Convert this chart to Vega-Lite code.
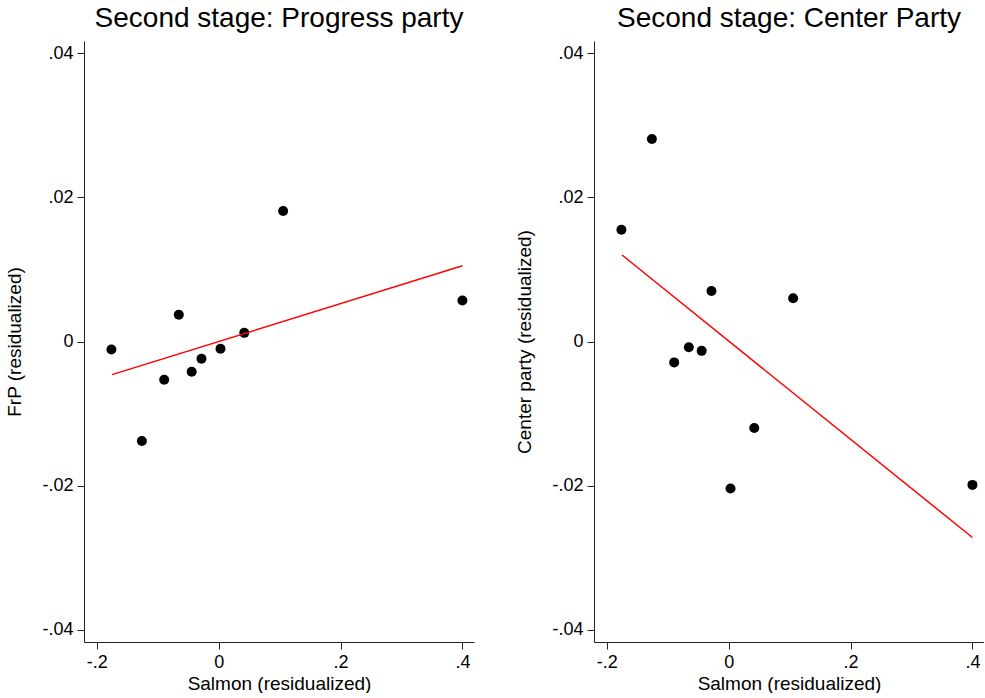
{
  "$schema": "https://vega.github.io/schema/vega-lite/v6.json",
  "background": "white",
  "padding": {"left": 5, "top": 5, "right": 0, "bottom": 0},
  "datasets": {
    "pts": [
      {"salmon": -0.176, "frp": -0.0011, "center": 0.0155},
      {"salmon": -0.126, "frp": -0.0138, "center": 0.0281},
      {"salmon": -0.0894, "frp": -0.0053, "center": -0.0029},
      {"salmon": -0.0654, "frp": 0.0037, "center": -0.0008},
      {"salmon": -0.0443, "frp": -0.0042, "center": -0.0013},
      {"salmon": -0.0282, "frp": -0.0024, "center": 0.0070},
      {"salmon": 0.003, "frp": -0.0010, "center": -0.0204},
      {"salmon": 0.042, "frp": 0.0012, "center": -0.0120},
      {"salmon": 0.1058, "frp": 0.0181, "center": 0.0060},
      {"salmon": 0.400, "frp": 0.0057, "center": -0.0199}
    ],
    "fit": [
      {"salmon": -0.175, "frp": -0.0046, "center": 0.0120},
      {"salmon": 0.400, "frp": 0.0105, "center": -0.0272}
    ]
  },
  "spacing": 41,
  "hconcat": [
    {
      "width": 390,
      "height": 601,
      "title": {"text": "Second stage: Progress party"},
      "layer": [
        {
          "data": {"name": "pts"},
          "mark": {"type": "circle", "size": 100, "color": "black", "opacity": 1},
          "encoding": {
            "x": {"field": "salmon", "type": "quantitative", "title": "Salmon (residualized)",
                  "scale": {"domain": [-0.221, 0.419], "nice": false, "zero": false},
                  "axis": {"values": [-0.2, 0, 0.2, 0.4]}},
            "y": {"field": "frp", "type": "quantitative", "title": "FrP (residualized)",
                  "scale": {"domain": [-0.0417, 0.0417], "nice": false, "zero": false},
                  "axis": {"values": [-0.04, -0.02, 0, 0.02, 0.04]}}
          }
        },
        {
          "data": {"name": "fit"},
          "mark": {"type": "line", "color": "#ff0000", "strokeWidth": 1.5},
          "encoding": {
            "x": {"field": "salmon", "type": "quantitative"},
            "y": {"field": "frp", "type": "quantitative"}
          }
        }
      ]
    },
    {
      "width": 390,
      "height": 601,
      "title": {"text": "Second stage: Center Party"},
      "layer": [
        {
          "data": {"name": "pts"},
          "mark": {"type": "circle", "size": 100, "color": "black", "opacity": 1},
          "encoding": {
            "x": {"field": "salmon", "type": "quantitative", "title": "Salmon (residualized)",
                  "scale": {"domain": [-0.221, 0.419], "nice": false, "zero": false},
                  "axis": {"values": [-0.2, 0, 0.2, 0.4]}},
            "y": {"field": "center", "type": "quantitative", "title": "Center party (residualized)",
                  "scale": {"domain": [-0.0417, 0.0417], "nice": false, "zero": false},
                  "axis": {"values": [-0.04, -0.02, 0, 0.02, 0.04]}}
          }
        },
        {
          "data": {"name": "fit"},
          "mark": {"type": "line", "color": "#ff0000", "strokeWidth": 1.5},
          "encoding": {
            "x": {"field": "salmon", "type": "quantitative"},
            "y": {"field": "center", "type": "quantitative"}
          }
        }
      ]
    }
  ],
  "config": {
    "view": {"stroke": null},
    "font": "Liberation Sans",
    "title": {"font": "Liberation Sans", "fontSize": 28, "fontWeight": "normal", "color": "black", "anchor": "middle", "offset": 8},
    "axis": {
      "grid": false,
      "domainColor": "#222",
      "tickColor": "#222",
      "tickSize": 7,
      "labelFont": "Liberation Sans",
      "labelFontSize": 18,
      "labelColor": "black",
      "labelPadding": 4,
      "titleFont": "Liberation Sans",
      "titleFontSize": 19,
      "titleFontWeight": "normal",
      "titleColor": "black",
      "labelFlush": false,
      "labelOverlap": false,
      "labelExpr": "datum.value == 0 ? '0' : (datum.value < 0 ? '-' : '') + replace(toString(abs(datum.value)), '0.', '.')"
    },
    "axisX": {"titlePadding": 3},
    "axisY": {"titlePadding": 17}
  }
}
